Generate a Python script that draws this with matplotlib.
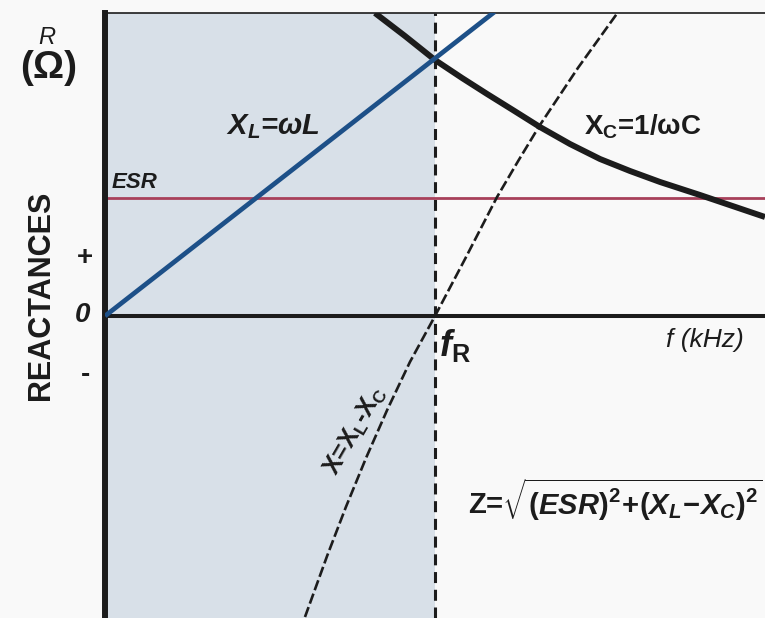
import numpy as np
import matplotlib
matplotlib.use("Agg")
import matplotlib.pyplot as plt

plt.rcParams['font.family'] = ['Liberation Sans', 'DejaVu Sans']
plt.rcParams['mathtext.fontset'] = 'custom'
plt.rcParams['mathtext.rm'] = 'Liberation Sans:bold'
plt.rcParams['mathtext.it'] = 'Liberation Sans:italic:bold'
plt.rcParams['mathtext.bf'] = 'Liberation Sans:bold'

# datos (f normalizada a fR = 1, reactancia en unidades arbitrarias)
f_xl = [0.0, 1.18]
xl = [0.0, 3.04]

f_xc = [0.818, 0.909, 1.0, 1.082, 1.158, 1.236, 1.318, 1.409, 1.5, 1.591, 1.682, 1.803, 2.0]
xc = [3.03, 2.80, 2.56, 2.38, 2.22, 2.06, 1.89, 1.72, 1.57, 1.45, 1.34, 1.21, 0.99]

f_x = [0.606, 0.673, 0.730, 0.791, 0.855, 0.924, 1.0, 1.091, 1.188, 1.252, 1.318, 1.433, 1.555]
x = [-3.01, -2.40, -1.91, -1.42, -0.94, -0.46, 0.0, 0.57, 1.19, 1.55, 1.91, 2.48, 3.04]

esr = 1.185
f_r = 1.0

W, H = 765, 618
fig = plt.figure(figsize=(W/100, H/100), dpi=100, facecolor='#f9f9f9')
ax = fig.add_axes([105/W, 0, 660/W, 605/H])
ax.set_facecolor('#f9f9f9')
ax.set_xlim(0, 2.0)
ax.set_ylim(-3.02, 3.03)
ax.set_xticks([])
ax.set_yticks([])
for s in ['right', 'bottom']:
    ax.spines[s].set_visible(False)
ax.spines['left'].set_linewidth(4.3)
ax.spines['left'].set_color('#1c1c1c')
ax.spines['top'].set_linewidth(1.2)
ax.spines['top'].set_color('#1c1c1c')

# zona sombreada (comportamiento capacitivo)
ax.axvspan(0, f_r, color='#d8e0e8', zorder=0, lw=0)

ax.axvline(f_r, color='#1c1c1c', lw=2.2, dashes=(3.6, 2.2), zorder=1)
ax.axhline(esr, color='#a8405a', lw=2.0, zorder=2)
ax.axhline(0, color='#1c1c1c', lw=2.9, zorder=2)

ax.plot(f_x, x, color='#1c1c1c', lw=1.9, dashes=(4, 1.4), zorder=3)
ax.plot(f_xc, xc, color='#1c1c1c', lw=4.3, solid_capstyle='butt', zorder=3)
ax.plot(f_xl, xl, color='#1d5088', lw=3.4, solid_capstyle='butt', zorder=4)

# etiquetas
ax.text(0.091, 1.33, 'ESR', fontsize=16, fontweight='bold', style='italic',
        ha='center', va='center', color='#1c1c1c')
ax.text(0.509, 1.89, r'X$_{L}$=ωL', fontsize=21, fontweight='bold', style='italic',
        ha='center', va='center', color='#1c1c1c')
ax.text(1.63, 1.89, r'X$_\mathrm{C}$=1/ωC', fontsize=20, fontweight='bold',
        ha='center', va='center', color='#1c1c1c')
ax.text(1.012, -0.29, r'f$_\mathrm{R}$', fontsize=26, fontweight='bold', style='italic',
        ha='left', va='center', color='#1c1c1c')
ax.text(1.818, -0.24, 'f (kHz)', fontsize=19, style='italic',
        ha='center', va='center', color='#1c1c1c')
ax.text(0.758, -1.15, r'X=X$_\mathrm{L}$-X$_\mathrm{C}$', fontsize=18, fontweight='bold',
        rotation=60, rotation_mode='anchor', ha='center', va='center', color='#1c1c1c')
ax.text(1.1, -1.84, r'Z=$\sqrt{(ESR)^2\!+\!(X_L\!-\!X_C)^2}$', fontsize=21,
        fontweight='bold', ha='left', va='center', color='#1c1c1c')

fig.text(47/W, 1 - 38/H, 'R', fontsize=17, style='italic', ha='center', va='center',
         color='#1c1c1c')
fig.text(49/W, 1 - 68/H, '(Ω)', fontsize=28, fontweight='bold', ha='center', va='center',
         color='#1c1c1c')
fig.text(41/W, 1 - 295/H, 'REACTANCES', fontsize=22, fontweight='bold', rotation=90,
         ha='center', va='center', color='#1c1c1c')
fig.text(85/W, 1 - 258/H, '+', fontsize=20, fontweight='bold', ha='center', va='center',
         color='#1c1c1c')
fig.text(83/W, 1 - 315/H, '0', fontsize=20, fontweight='bold', style='italic',
         ha='center', va='center', color='#1c1c1c')
fig.text(85/W, 1 - 375/H, '-', fontsize=20, fontweight='bold', ha='center', va='center',
         color='#1c1c1c')

fig.savefig('out.png', dpi=100, facecolor=fig.get_facecolor())
